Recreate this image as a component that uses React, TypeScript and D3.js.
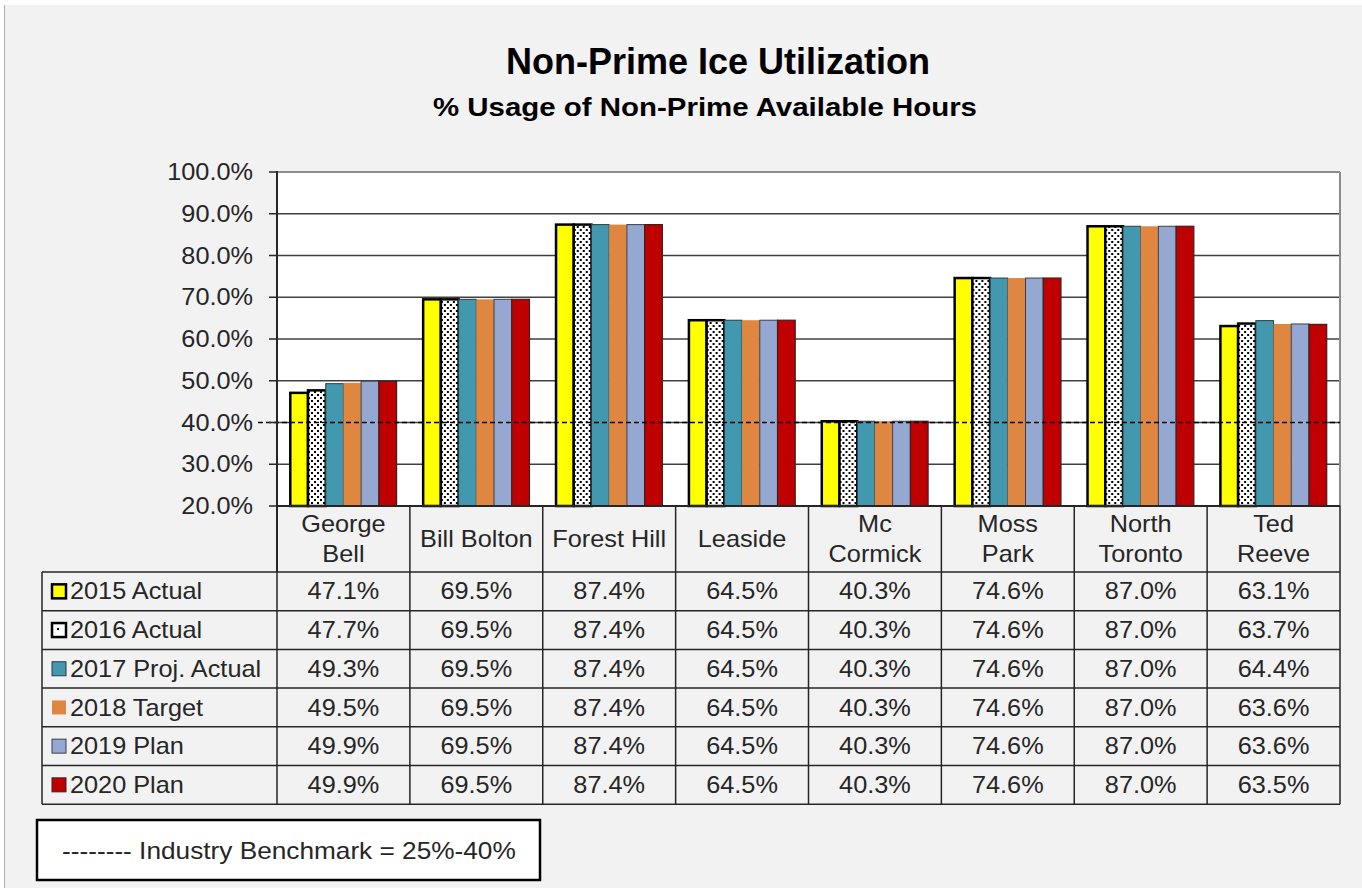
import React from "react";
import * as d3 from "d3";

const categories = ["George Bell", "Bill Bolton", "Forest Hill", "Leaside", "Mc Cormick", "Moss Park", "North Toronto", "Ted Reeve"];
const categoryLines = [["George", "Bell"], ["Bill Bolton"], ["Forest Hill"], ["Leaside"], ["Mc", "Cormick"], ["Moss", "Park"], ["North", "Toronto"], ["Ted", "Reeve"]];
const seriesNames = ["2015 Actual", "2016 Actual", "2017 Proj. Actual", "2018 Target", "2019 Plan", "2020 Plan"];
const s2015 = [47.1, 69.5, 87.4, 64.5, 40.3, 74.6, 87.0, 63.1];
const s2016 = [47.7, 69.5, 87.4, 64.5, 40.3, 74.6, 87.0, 63.7];
const s2017 = [49.3, 69.5, 87.4, 64.5, 40.3, 74.6, 87.0, 64.4];
const s2018 = [49.5, 69.5, 87.4, 64.5, 40.3, 74.6, 87.0, 63.6];
const s2019 = [49.9, 69.5, 87.4, 64.5, 40.3, 74.6, 87.0, 63.6];
const s2020 = [49.9, 69.5, 87.4, 64.5, 40.3, 74.6, 87.0, 63.5];
const seriesValues = [s2015, s2016, s2017, s2018, s2019, s2020];
const yTicks = [20, 30, 40, 50, 60, 70, 80, 90, 100];
const benchmark = 40;

const seriesFill = ["#FFFF00", "url(#dots)", "#4198AF", "#DF8641", "#94A8D2", "#C00000"];
const seriesStroke = ["#000", "#000", "#2b3b40", "none", "#3a3f4a", "#3a2020"];
const seriesStrokeW = [2.5, 2.5, 1, 0, 1, 1.2];

const FONT = "'Liberation Sans', Arial, sans-serif";

function T({ x, y, anchor = "start", size = 23, sx = 1.1, children }: { x: number; y: number; anchor?: string; size?: number; sx?: number; children: React.ReactNode }) {
  return (
    <text transform={`translate(${x},${y}) scale(${sx},1)`} dy="0.35em" textAnchor={anchor as any} fontSize={size} fill="#262626">
      {children}
    </text>
  );
}

export default function App() {
  const W = 1362, H = 888;
  const x0 = 277, x1 = 1340, yTop = 172, yBot = 506;
  const x = d3.scaleBand<string>().domain(categories).range([x0, x1]).padding(0);
  const bw = x.bandwidth();
  const inner = d3.scaleBand<string>().domain(seriesNames).range([0, bw]).paddingOuter(0.75).paddingInner(0);
  const y = d3.scaleLinear().domain([20, 100]).range([yBot, yTop]);
  const fmtTick = (v: number) => d3.format(".1f")(v) + "%";
  const rowTop = 572;
  const rowH = 38.7;
  const tableLeft = 42;
  const tableBottom = rowTop + rowH * seriesNames.length;

  return (
    <svg width={W} height={H} style={{ position: "absolute", left: 0, top: 0, display: "block" }} fontFamily={FONT}>
      <defs>
        <pattern id="dots" width="6" height="6" patternUnits="userSpaceOnUse">
          <rect width="6" height="6" fill="#fff" />
          <rect x="1" y="1" width="2" height="2" fill="#000" />
          <rect x="4" y="4" width="2" height="2" fill="#000" />
        </pattern>
      </defs>
      <rect x={0} y={0} width={W} height={H} fill="#fff" />
      <rect x={4} y={5} width={W - 4} height={H - 5} fill="#F2F2F2" />
      <line x1={4.5} x2={4.5} y1={5} y2={H} stroke="#b0b0b0" strokeWidth={1} />

      <text x={718} y={74} textAnchor="middle" fontWeight="bold" fontSize={36} fill="#000">Non-Prime Ice Utilization</text>
      <text x={705} y={116} textAnchor="middle" fontWeight="bold" fontSize={26} fill="#000" textLength={544} lengthAdjust="spacingAndGlyphs">% Usage of Non-Prime Available Hours</text>

      {/* plot area */}
      <rect x={x0} y={yTop} width={x1 - x0} height={yBot - yTop} fill="#fff" />
      {yTicks.map((t) => (
        <line key={"g" + t} x1={x0} x2={x1} y1={y(t)} y2={y(t)} stroke={t === 100 ? "#8c8c8c" : "#404040"} strokeWidth={t === 100 ? 2 : 1.5} />
      ))}
      <line x1={x1} x2={x1} y1={yTop} y2={yBot} stroke="#8c8c8c" strokeWidth={2} />

      {/* bars */}
      {categories.map((c, ci) => (
        <g key={c} transform={`translate(${x(c)},0)`}>
          {seriesNames.map((s, si) => {
            const v = seriesValues[si][ci];
            const bx = inner(s)!;
            return (
              <rect key={s} x={bx} y={y(v)} width={inner.bandwidth()} height={yBot - y(v)}
                fill={seriesFill[si]} stroke={seriesStroke[si]} strokeWidth={seriesStrokeW[si]} />
            );
          })}
        </g>
      ))}

      {/* benchmark */}
      <line x1={258} x2={x1} y1={y(benchmark)} y2={y(benchmark)} stroke="#000" strokeWidth={1.6} strokeDasharray="5,3" />

      {/* y axis */}
      <line x1={x0} x2={x0} y1={yTop - 1} y2={rowTop} stroke="#262626" strokeWidth={2} />
      {yTicks.map((t) => (
        <g key={"t" + t}>
          <line x1={x0 - 8} x2={x0} y1={y(t)} y2={y(t)} stroke="#262626" strokeWidth={1.5} />
          <T x={253} y={y(t)} anchor="end">{fmtTick(t)}</T>
        </g>
      ))}

      {/* table */}
      <line x1={x0} x2={x1} y1={yBot} y2={yBot} stroke="#262626" strokeWidth={2} />
      {categories.map((c, ci) => (
        <g key={"h" + c}>
          <line x1={x(c)! + bw} x2={x(c)! + bw} y1={yBot} y2={tableBottom} stroke="#262626" strokeWidth={1.5} />
          {categoryLines[ci].map((ln, li) => {
            const n = categoryLines[ci].length;
            const cy = (yBot + rowTop) / 2 + (li - (n - 1) / 2) * 30;
            return <T key={li} x={x(c)! + bw / 2} y={cy} anchor="middle">{ln}</T>;
          })}
        </g>
      ))}
      <line x1={tableLeft} x2={tableLeft} y1={rowTop} y2={tableBottom} stroke="#262626" strokeWidth={1.5} />
      <line x1={x0} x2={x0} y1={rowTop} y2={tableBottom} stroke="#262626" strokeWidth={1.5} />
      {seriesNames.map((s, si) => {
        const ry = rowTop + si * rowH;
        const cy = ry + rowH / 2;
        return (
          <g key={"r" + s}>
            <line x1={tableLeft} x2={x1} y1={ry} y2={ry} stroke="#262626" strokeWidth={1.5} />
            <rect x={52} y={cy - 7} width={14} height={14} fill={seriesFill[si] === "url(#dots)" ? "#fff" : seriesFill[si]}
              stroke={seriesStroke[si]} strokeWidth={si < 2 ? 2.5 : 1} />
            {si === 1 && <rect x={57} y={cy - 2} width={2} height={2} fill="#000" />}
            <T x={70} y={cy}>{s}</T>
            {categories.map((c, ci) => (
              <T key={c} x={x(c)! + bw / 2} y={cy} anchor="middle">
                {d3.format(".1f")(seriesValues[si][ci]) + "%"}
              </T>
            ))}
          </g>
        );
      })}
      <line x1={tableLeft} x2={x1} y1={tableBottom} y2={tableBottom} stroke="#262626" strokeWidth={1.5} />

      {/* benchmark legend box */}
      <rect x={37} y={820} width={503} height={60} fill="#fff" stroke="#000" strokeWidth={2.5} />
      <T x={62} y={851} sx={1.14}>-------- Industry Benchmark = 25%-40%</T>
    </svg>
  );
}
